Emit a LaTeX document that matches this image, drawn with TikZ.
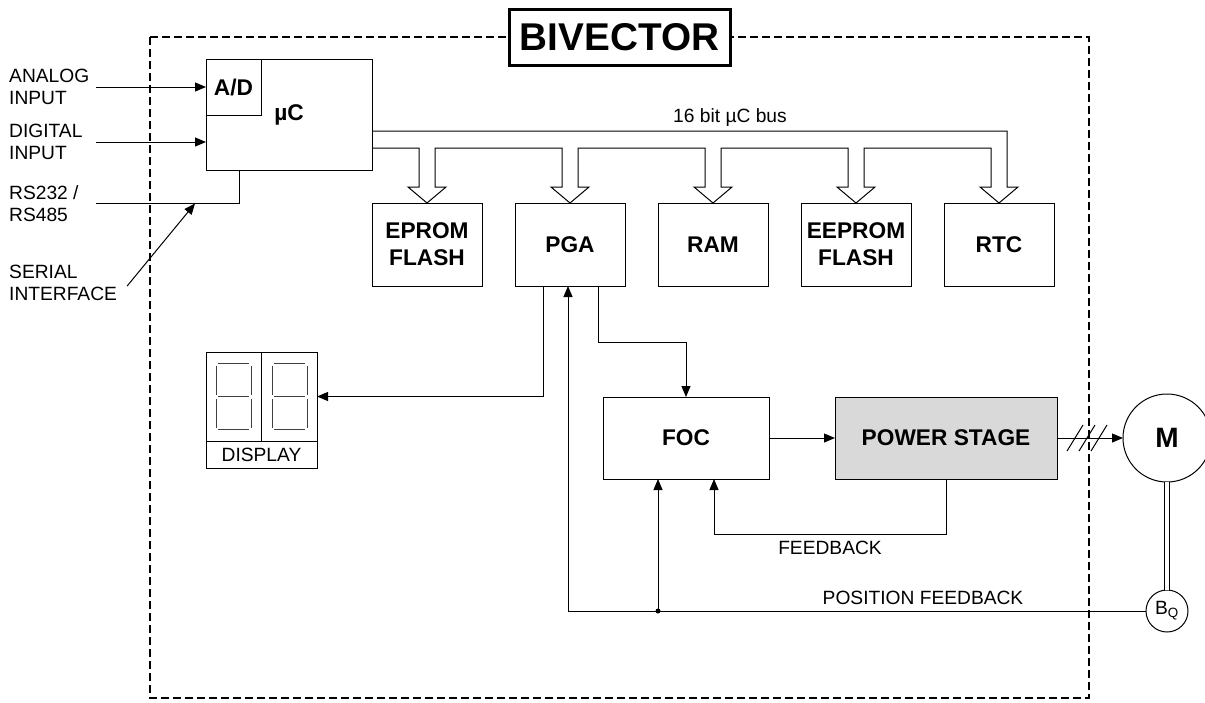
\documentclass[tikz,border=0pt]{standalone}
\usepackage{fontspec}
\setmainfont{Liberation Sans}
\usetikzlibrary{positioning,calc,arrows.meta}

\begin{document}
\begin{tikzpicture}[x=1pt,y=-1pt,
    txt/.style={font=\fontsize{19.2}{22}\selectfont,inner sep=0pt},
    blk/.style={draw,line width=1pt,inner sep=0pt,outer sep=0pt,align=center,
                font=\fontsize{22.7}{27}\selectfont\bfseries},
    mem/.style={blk,minimum width=110pt,minimum height=83pt},
    conn/.style={line width=1pt},
    arr/.style={conn,-{Triangle[length=11pt,width=9pt]}},
    seg/.style={line width=0.8pt,black!75}]
    \useasboundingbox (0,0) rectangle (1205,702);
    % Outer frame
    \draw[line width=1.2pt,dash pattern=on 8pt off 4pt] (150,37) rectangle (1089,698);
    \node[draw,line width=3pt,fill=white,minimum width=221pt,minimum height=56pt,inner sep=0pt,
          font=\fontsize{38.7}{40}\selectfont\bfseries] (title) at (619.5,37) {BIVECTOR};
    % Microcontroller
    \node[blk,minimum width=166pt,minimum height=111pt] (uc) at (289,114.5) {µC};
    \node[blk,minimum width=55pt,minimum height=56pt] (ad) at (233.5,87) {A/D};
    % Bus blocks
    \node[mem] (eprom) at (427,244.5) {EPROM\\FLASH};
    \node[mem] (pga) at (570,244.5) {PGA};
    \node[mem] (ram) at (713,244.5) {RAM};
    \node[mem] (eeprom) at (856,244.5) {EEPROM\\FLASH};
    \node[mem] (rtc) at (999,244.5) {RTC};
    % Drive
    \node[blk,minimum width=166pt,minimum height=82pt] (foc) at (686,438) {FOC};
    \node[blk,fill=black!15,minimum width=222pt,minimum height=82pt] (ps) at (946,438) {POWER STAGE};
    \node[draw,circle,line width=1pt,minimum size=88pt,inner sep=0pt,outer sep=0pt,
          font=\fontsize{28}{30}\selectfont\bfseries] (motor) at (1167,438) {M};
    \node[draw,circle,line width=1pt,minimum size=42pt,outer sep=0pt,txt] (bq) at (1167,611) {B\textsubscript{Q}};
    % Display
    \node[draw,line width=1pt,minimum width=111pt,minimum height=89pt,inner sep=0pt,outer sep=0pt] (disp) at (261.5,396.5) {};
    \node[draw,line width=1pt,minimum width=111pt,minimum height=27pt,outer sep=0pt,txt,below=0pt of disp] (displbl) {DISPLAY};
    \draw[line width=1pt] (disp.north) -- (disp.south);
    \foreach \dx in {-28,28} {
      \begin{scope}[shift={(disp.center)},xshift=\dx pt]
        \draw[seg] (-15.5,-33) -- (15.5,-33) (-15.5,0) -- (15.5,0) (-15.5,33) -- (15.5,33)
                   (-17.5,-31) -- (-17.5,-2) (-17.5,2) -- (-17.5,31)
                   (17.5,-31) -- (17.5,-2) (17.5,2) -- (17.5,31);
      \end{scope}
    }
    % Inputs
    \node[txt,align=left,anchor=west] (ain) at (9,87) {ANALOG\\INPUT};
    \node[txt,align=left,anchor=west] (din) at (9,142) {DIGITAL\\INPUT};
    \node[txt,align=left,anchor=west] (rs) at (9,203.5) {RS232 /\\RS485};
    \node[txt,align=left,anchor=west] (ser) at (9,283) {SERIAL\\INTERFACE};
    \coordinate (inx) at (96,0);
    \coordinate (sertip) at (195,0);
    \draw[arr] (inx |- ain.east) -- (ad.west);
    \draw[arr] (inx |- din.east) -- (uc.west |- din.east);
    \draw[conn] (inx |- rs.east) -| ([xshift=-50pt]uc.south);
    \draw[arr] ([shift={(10,3)}]ser.east) -- (sertip |- rs.east);
    % 16 bit bus
    \coordinate (bustop) at (0,131);
    \coordinate (busbot) at (0,148);
    \draw[conn] (uc.east |- busbot)
      foreach \b in {eprom,pga,ram,eeprom,rtc} {
        -- ($(\b.north)+(-8,-55)$) -- ++(0,39) -- ++(-11,0) -- (\b.north)
        -- ++(19,-16) -- ++(-11,0) -- ++(0,-39)}
      -- ++(0,-17) -- (uc.east |- bustop);
    \node[txt] (buslbl) at (730,118) {16 bit µC bus};
    % PGA outputs
    \draw[arr] ([xshift=-27pt]pga.south) |- (disp.east);
    \draw[arr] ([xshift=28pt]pga.south) -- ++(0,56) -| (foc.north);
    % Power path
    \draw[arr] (foc) -- (ps);
    \draw[arr] (ps) -- (motor);
    \coordinate (cut) at ([xshift=30pt]ps.east);
    \foreach \s in {-12,0,12} \draw[conn] ([xshift=\s pt]cut) +(-8,13) -- +(8,-13);
    \draw[double,double distance=4pt,line width=1pt] (motor.south) -- (bq.north);
    % Feedback
    \coordinate (focpos) at ([xshift=-28pt]foc.south);
    \coordinate (focfb) at ([xshift=28pt]foc.south);
    \draw[arr] (ps.south) -- ++(0,55) -| (focfb);
    \node[txt] (fblbl) at (830,548) {FEEDBACK};
    \coordinate (junc) at (focpos |- bq.west);
    \draw[arr] (bq.west) -| ([xshift=-2pt]pga.south);
    \draw[arr] (junc) -- (focpos);
    \fill (junc) circle (2.5pt);
    \node[txt] (pfblbl) at (923,598) {POSITION FEEDBACK};
\end{tikzpicture}
\end{document}
